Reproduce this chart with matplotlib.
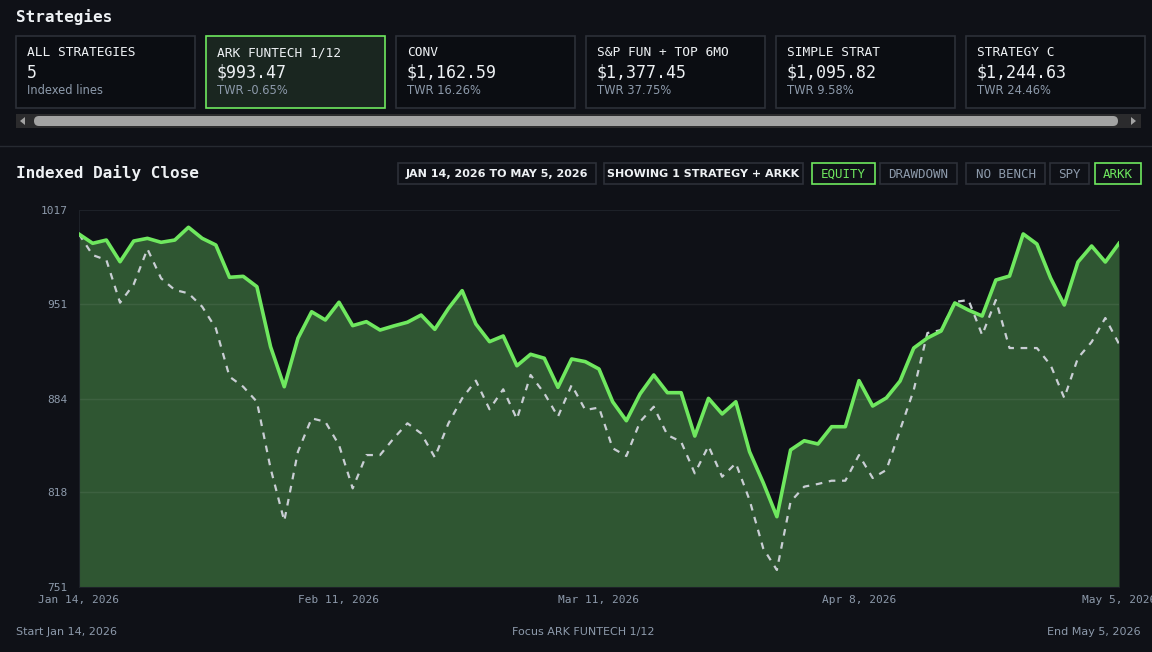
import matplotlib
matplotlib.use('Agg')
import matplotlib.pyplot as plt
from matplotlib.patches import Rectangle, FancyBboxPatch, Polygon

# dados
strategy_names = ['ALL STRATEGIES', 'ARK FUNTECH 1/12', 'CONV', 'S&P FUN + TOP 6MO', 'SIMPLE STRAT', 'STRATEGY C']
strategy_values = ['5', '$993.47', '$1,162.59', '$1,377.45', '$1,095.82', '$1,244.63']
strategy_subs = ['Indexed lines', 'TWR -0.65%', 'TWR 16.26%', 'TWR 37.75%', 'TWR 9.58%', 'TWR 24.46%']

equity = [1000, 993.5, 995.8, 980.5, 995.1, 997.0, 994.2, 995.8, 1004.8, 997.0,
          992.3, 969.5, 970.2, 962.9, 920.5, 892.3, 926.5, 945.2, 939.4, 951.9,
          935.4, 938.2, 932.3, 935.2, 937.8, 942.9, 932.8, 947.6, 960.1, 936.6,
          924.1, 928.1, 907.1, 915.2, 912.4, 891.9, 911.9, 910.0, 904.8, 881.7,
          868.3, 887.2, 900.6, 888.1, 888.1, 857.5, 884.1, 873.1, 881.7, 846.5,
          824.6, 800.6, 847.7, 854.2, 851.9, 864.1, 864.1, 896.6, 878.7, 884.4,
          896.3, 919.6, 926.7, 931.6, 951.4, 946.4, 942.2, 967.6, 970.4, 1000.1,
          993.0, 969.0, 950.0, 980.3, 991.6, 980.3, 993.47]
arkk = [1000, 985.2, 981.7, 951.6, 964.6, 989.5, 968.8, 960.6, 958.2, 948.8,
        933.5, 899.4, 892.3, 881.7, 834.7, 797.6, 846.5, 870.0, 867.6, 851.2,
        820.6, 844.1, 844.1, 855.9, 866.5, 859.4, 842.5, 866.5, 884.1, 896.6,
        876.4, 890.5, 869.5, 900.6, 887.7, 871.2, 893.5, 875.9, 877.6, 848.9,
        843.4, 867.6, 878.2, 858.2, 853.5, 831.2, 850.5, 828.8, 838.3, 812.4,
        778.3, 763.0, 811.2, 821.8, 823.7, 826.0, 826.0, 844.1, 827.9, 833.6,
        861.8, 890.0, 930.2, 932.3, 952.1, 953.5, 928.8, 953.5, 919.6, 919.6,
        919.6, 907.6, 884.4, 912.6, 923.9, 940.8, 922.5]
y_ticks = [751, 818, 884, 951, 1017]
x_tick_pos = [0, 19, 38, 57, 76]
x_tick_labels = ['Jan 14, 2026', 'Feb 11, 2026', 'Mar 11, 2026', 'Apr 8, 2026', 'May 5, 2026']

BG = '#0f1117'
CARD = '#0b0d12'
BORDER = '#2c3038'
GREEN = '#6fe85f'
MUTED = '#8d9aab'
WHITE = '#eef1f4'
MONO = 'DejaVu Sans Mono'
SANS = 'DejaVu Sans'

fig = plt.figure(figsize=(11.52, 6.52), dpi=100, facecolor=BG)

# camada de fundo em pixels
ui = fig.add_axes([0, 0, 1, 1])
ui.set_xlim(0, 1152)
ui.set_ylim(652, 0)
ui.axis('off')
ui.set_facecolor(BG)

ui.text(16, 17, 'Strategies', family=MONO, weight='bold', fontsize=11.5, color=WHITE, va='center')

# cards
for i, (nome, valor, sub) in enumerate(zip(strategy_names, strategy_values, strategy_subs)):
    x0 = 16 + i * 190
    sel = i == 1
    ui.add_patch(Rectangle((x0, 36), 179, 72, facecolor='#1a2620' if sel else CARD,
                           edgecolor=GREEN if sel else BORDER, lw=1.2))
    ui.text(x0 + 11, 53, nome, family=MONO, fontsize=9.3, color=WHITE, va='center')
    ui.text(x0 + 11, 73, valor, family=MONO, fontsize=12, color=WHITE, va='center')
    ui.text(x0 + 11, 91, sub, family=SANS, fontsize=8.3, color=MUTED, va='center')

# barra de rolagem
ui.add_patch(Rectangle((16, 114), 1125, 14, facecolor='#2b2b2d', edgecolor='none'))
ui.add_patch(FancyBboxPatch((34, 116), 1084, 10, boxstyle='round,pad=0,rounding_size=5',
                            facecolor='#a3a3a3', edgecolor='none'))
ui.add_patch(Polygon([[20, 121], [25, 117], [25, 125]], closed=True, facecolor='#a3a3a3'))
ui.add_patch(Polygon([[1136, 121], [1131, 117], [1131, 125]], closed=True, facecolor='#a3a3a3'))

ui.plot([0, 1152], [146, 146], color='#262a31', lw=1)

ui.text(16, 173, 'Indexed Daily Close', family=MONO, weight='bold', fontsize=11.5, color=WHITE, va='center')

# botões
botoes = [('JAN 14, 2026 TO MAY 5, 2026', 398, 198, False, SANS, WHITE),
          ('SHOWING 1 STRATEGY + ARKK', 604, 199, False, SANS, WHITE),
          ('EQUITY', 812, 63, True, MONO, GREEN),
          ('DRAWDOWN', 880, 77, False, MONO, MUTED),
          ('NO BENCH', 966, 79, False, MONO, MUTED),
          ('SPY', 1050, 39, False, MONO, MUTED),
          ('ARKK', 1095, 46, True, MONO, GREEN)]
for txt, bx, bw, ativo, fam, cor in botoes:
    ui.add_patch(Rectangle((bx, 163), bw, 21, facecolor=BG,
                           edgecolor=GREEN if ativo else BORDER, lw=1.2))
    ui.text(bx + bw / 2, 174, txt, family=fam, fontsize=8 if fam == SANS else 9, color=cor,
            ha='center', va='center', weight='bold' if fam == SANS else 'normal')

# rodapé
ui.text(16, 632, 'Start Jan 14, 2026', family=SANS, fontsize=8, color=MUTED, va='center')
ui.text(583, 632, 'Focus ARK FUNTECH 1/12', family=SANS, fontsize=8, color=MUTED, va='center', ha='center')
ui.text(1141, 632, 'End May 5, 2026', family=SANS, fontsize=8, color=MUTED, va='center', ha='right')

# gráfico principal
ax = fig.add_axes([79 / 1152, (652 - 587) / 652, 1040 / 1152, 377 / 652])
ax.set_facecolor(BG)
x = list(range(len(equity)))
ax.fill_between(x, equity, 751, color='#2f5632', lw=0, zorder=1)
for yv in [818, 884, 951]:
    ax.axhline(yv, color='#ffffff', alpha=0.07, lw=1, zorder=2)
ax.plot(x, arkk, color='#c9ced4', lw=1.6, dashes=(3, 3), zorder=3)
ax.plot(x, equity, color=GREEN, lw=2.6, zorder=4)
ax.set_xlim(0, len(equity) - 1)
ax.set_ylim(751, 1017)
ax.set_yticks(y_ticks)
ax.set_yticklabels([str(v) for v in y_ticks], family=MONO, fontsize=8, color=MUTED)
ax.set_xticks(x_tick_pos)
ax.set_xticklabels(x_tick_labels, family=MONO, fontsize=8, color=MUTED)
ax.tick_params(length=0, pad=8)
ax.tick_params(axis='x', pad=6)
for s in ax.spines.values():
    s.set_color('#1d2128')
ax.spines['right'].set_visible(False)

plt.savefig('out.png', dpi=100, facecolor=BG)
